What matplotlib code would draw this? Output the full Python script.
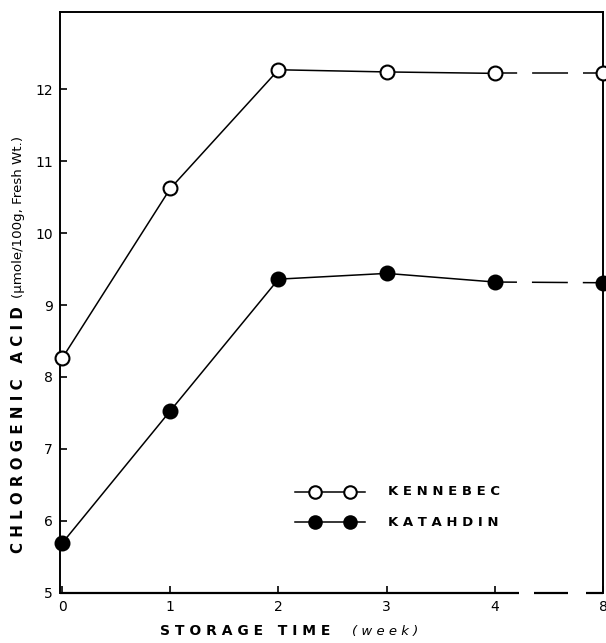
import matplotlib
matplotlib.use("Agg")
import matplotlib.pyplot as plt

# storage time (week) - plotted on equally spaced categorical positions
weeks = ["0", "1", "2", "3", "4", "8"]
kennebec = [8.26, 10.62, 12.27, 12.24, 12.22, 12.22]
katahdin = [5.69, 7.53, 9.36, 9.44, 9.32, 9.31]
y_ticks = [5, 6, 7, 8, 9, 10, 11, 12]
series_names = ["K E N N E B E C", "K A T A H D I N"]

pos = list(range(len(weeks)))

fig = plt.figure(figsize=(6.06, 6.43), dpi=100)
ax = fig.add_axes([0.099, 0.078, 0.896, 0.903])

dash = (9, (23.5, 9.8))
faces = ["white", "black"]
for vals, face in zip([kennebec, katahdin], faces):
    # solid part up to week 4, dashed on to week 8
    ax.plot(pos[:5], vals[:5], "-", color="black", lw=1.1, zorder=2)
    ax.plot(pos[4:], vals[4:], color="black", lw=1.1, linestyle=dash, zorder=2)
    ax.plot(pos, vals, "o", ms=10, mfc=face, mec="black", mew=1.5, zorder=3,
            clip_on=False)

ax.set_xlim(-0.02, 5.0)
ax.set_ylim(5, 13.07)
ax.set_xticks(pos)
ax.set_xticklabels(weeks, fontsize=10)
ax.set_yticks(y_ticks)
ax.set_yticklabels([str(v) for v in y_ticks], fontsize=10)
ax.tick_params(direction="in", length=5, width=1.2, pad=5)

for side in ["left", "top", "right"]:
    ax.spines[side].set_linewidth(1.4)
ax.spines["bottom"].set_visible(False)

# broken bottom axis
trans = ax.get_xaxis_transform()
for x0, x1 in [(-0.02, 4.22), (4.36, 4.68), (4.84, 5.0)]:
    ax.plot([x0, x1], [0, 0], color="black", lw=1.6, transform=trans,
            clip_on=False, solid_capstyle="butt")

# legend, drawn by hand inside the axes
for row, (name, face) in enumerate(zip(series_names, faces)):
    yk = 0.174 - row * 0.052
    ax.plot([0.433, 0.562], [yk, yk], "-", color="black", lw=1.1,
            transform=ax.transAxes)
    ax.plot([0.470, 0.534], [yk, yk], "o", ms=9, mfc=face, mec="black",
            mew=1.5, transform=ax.transAxes)
    ax.text(0.604, yk, name, transform=ax.transAxes, ha="left", va="center",
            fontsize=9.5, fontweight="bold")

fig.text(0.404, 0.008, "S T O R A G E   T I M E", ha="center", va="bottom",
         fontsize=10, fontweight="bold")
fig.text(0.636, 0.008, "( w e e k )", ha="center", va="bottom",
         fontsize=9.5, style="italic")

fig.text(0.030, 0.140, "C H L O R O G E N I C   A C I D", rotation=90,
         ha="center", va="bottom", fontsize=10.8, fontweight="bold")
fig.text(0.031, 0.536, "(μmole/100g, Fresh Wt.)", rotation=90, ha="center",
         va="bottom", fontsize=9.6)

fig.savefig("out.png", dpi=100)
